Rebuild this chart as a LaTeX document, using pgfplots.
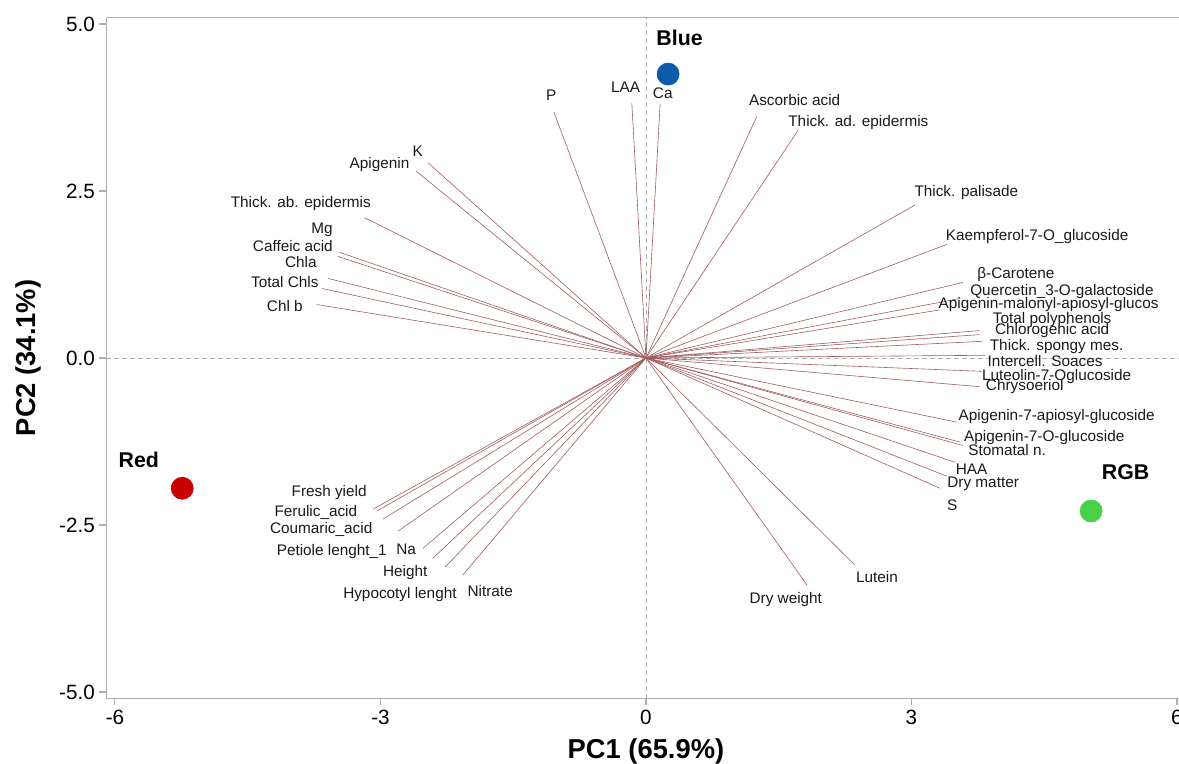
\documentclass[border=0pt]{standalone}
\usepackage{pgfplots}
\usepackage{pgfplotstable}
\pgfplotsset{compat=1.18}
\usepackage{fontspec}
\setmainfont{Liberation Sans}
\definecolor{vec}{RGB}{160,92,92}
\definecolor{ptblue}{RGB}{12,90,170}
\definecolor{ptred}{RGB}{200,0,0}
\definecolor{ptgreen}{RGB}{72,208,72}
\definecolor{framegray}{RGB}{175,175,175}
\tikzset{
  lab/.style={font=\fontsize{11.5bp}{13bp}\selectfont, inner sep=0pt, text=black!90},
  grp/.style={font=\bfseries\fontsize{16bp}{19bp}\selectfont, inner sep=0pt},
}

\pgfplotstableread{
x y
-1.04 3.68
-0.16 3.82
0.16 3.80
1.25 3.61
1.72 3.41
-2.46 2.92
-2.60 2.80
-3.18 2.10
-3.46 1.58
-3.48 1.52
-3.59 1.19
-3.66 1.04
-3.72 0.80
3.04 2.29
3.40 1.70
3.58 1.13
3.55 0.89
3.32 0.72
3.77 0.41
3.77 0.35
3.80 0.25
3.83 0.04
3.80 -0.20
3.77 -0.43
3.51 -0.96
3.55 -1.26
3.58 -1.31
3.49 -1.56
3.40 -1.77
3.32 -1.95
2.36 -3.10
1.82 -3.40
-3.08 -2.26
-3.04 -2.29
-2.97 -2.41
-2.80 -2.59
-2.52 -2.85
-2.41 -3.00
-2.27 -3.13
-2.07 -3.25
}\loadings

\begin{document}
\begin{tikzpicture}
\begin{axis}[
  x=66.375bp, y=50.1bp,
  xmin=-6.1, xmax=6.1, ymin=-5.1, ymax=5.1,
  xtick={-6,-3,0,3,6},
  ytick={-5,-2.5,0,2.5,5},
  tick align=outside,
  major tick length=5bp,
  xtick pos=bottom, ytick pos=left,
  axis line style={framegray, line width=0.8bp},
  tick style={framegray, line width=0.8bp},
  /pgf/number format/assume math mode=true,
  ticklabel style={font=\fontsize{15.5bp}{18bp}\selectfont, text=black},
  yticklabel style={/pgf/number format/.cd, fixed, fixed zerofill, precision=1},
  xticklabel style={/pgf/number format/.cd, fixed, precision=0},
  xlabel={PC1 (65.9\%)},
  ylabel={PC2 (34.1\%)},
  label style={font=\bfseries\fontsize{20.5bp}{24bp}\selectfont},
  xlabel style={at={(axis description cs:0.5,-0.078)}, anchor=center},
  ylabel style={at={(axis description cs:-0.072,0.5)}, anchor=center},
  clip=false,
]
% reference dashed lines
\addplot[framegray, line width=0.7bp, dash pattern=on 3.5bp off 2.5bp] coordinates {(0,-5.1) (0,5.1)};
\addplot[framegray, line width=0.7bp, dash pattern=on 3.5bp off 2.5bp] coordinates {(-6.1,0) (6.1,0)};

% loading vectors
\addplot[vec, line width=0.45bp, quiver={u=\thisrow{x}, v=\thisrow{y}}, -] table[x expr=0, y expr=0] {\loadings};

% scores
\addplot[only marks, mark=*, mark size=8.3bp, ptblue, mark options={draw=ptblue, fill=ptblue}] coordinates {(0.25,4.25)};
\addplot[only marks, mark=*, mark size=8.3bp, ptred, mark options={draw=ptred, fill=ptred}] coordinates {(-5.24,-1.95)};
\addplot[only marks, mark=*, mark size=8.3bp, ptgreen, mark options={draw=ptgreen, fill=ptgreen}] coordinates {(5.03,-2.29)};

\node[grp] at (axis cs:0.38,4.79) {Blue};
\node[grp] at (axis cs:-5.73,-1.52) {Red};
\node[grp] at (axis cs:5.42,-1.71) {RGB};

% variable labels
\node[lab] at (axis cs:-1.07,3.94) {P};
\node[lab] at (axis cs:-0.23,4.06) {LAA};
\node[lab] at (axis cs:0.19,3.97) {Ca};
\node[lab] at (axis cs:1.68,3.86) {Ascorbic acid};
\node[lab] at (axis cs:2.40,3.53) {Thick. ad. epidermis};
\node[lab] at (axis cs:-2.58,3.10) {K};
\node[lab] at (axis cs:-3.01,2.89) {Apigenin};
\node[lab] at (axis cs:-3.90,2.31) {Thick. ab. epidermis};
\node[lab] at (axis cs:-3.66,1.92) {Mg};
\node[lab] at (axis cs:-3.99,1.67) {Caffeic acid};
\node[lab] at (axis cs:-3.90,1.43) {Chla};
\node[lab] at (axis cs:-4.08,1.13) {Total Chls};
\node[lab] at (axis cs:-4.08,0.78) {Chl b};
\node[lab] at (axis cs:3.62,2.47) {Thick. palisade};
\node[lab] at (axis cs:4.42,1.82) {Kaempferol-7-O\_glucoside};
\node[lab] at (axis cs:4.18,1.25) {β-Carotene};
\node[lab] at (axis cs:4.70,0.99) {Quercetin\_3-O-galactoside};
\node[lab] at (axis cs:4.55,0.80) {Apigenin-malonyl-apiosyl-glucos};
\node[lab] at (axis cs:4.59,0.58) {Total polyphenols};
\node[lab] at (axis cs:4.59,0.41) {Chlorogenic acid};
\node[lab] at (axis cs:4.64,0.17) {Thick. spongy mes.};
\node[lab] at (axis cs:4.51,-0.04) {Intercell. Soaces};
\node[lab] at (axis cs:4.64,-0.28) {Luteolin-7-Oglucoside};
\node[lab] at (axis cs:4.28,-0.43) {Chrysoeriol};
\node[lab] at (axis cs:4.64,-0.87) {Apigenin-7-apiosyl-glucoside};
\node[lab] at (axis cs:4.50,-1.19) {Apigenin-7-O-glucoside};
\node[lab] at (axis cs:4.08,-1.38) {Stomatal n.};
\node[lab] at (axis cs:3.68,-1.67) {HAA};
\node[lab] at (axis cs:3.81,-1.89) {Dry matter};
\node[lab] at (axis cs:3.46,-2.20) {S};
\node[lab] at (axis cs:2.61,-3.28) {Lutein};
\node[lab] at (axis cs:1.58,-3.62) {Dry weight};
\node[lab] at (axis cs:-3.58,-2.01) {Fresh yield};
\node[lab] at (axis cs:-3.73,-2.31) {Ferulic\_acid};
\node[lab] at (axis cs:-3.67,-2.56) {Coumaric\_acid};
\node[lab] at (axis cs:-3.55,-2.89) {Petiole lenght\_1};
\node[lab] at (axis cs:-2.71,-2.86) {Na};
\node[lab] at (axis cs:-2.72,-3.21) {Height};
\node[lab] at (axis cs:-2.78,-3.54) {Hypocotyl lenght};
\node[lab] at (axis cs:-1.76,-3.49) {Nitrate};

\coordinate (bbsw) at (axis cs:-7.299,-6.078);
\coordinate (bbne) at (axis cs:6.023,5.359);
\end{axis}
\pgfresetboundingbox
\path[use as bounding box] (bbsw) rectangle (bbne);
\end{tikzpicture}
\end{document}
